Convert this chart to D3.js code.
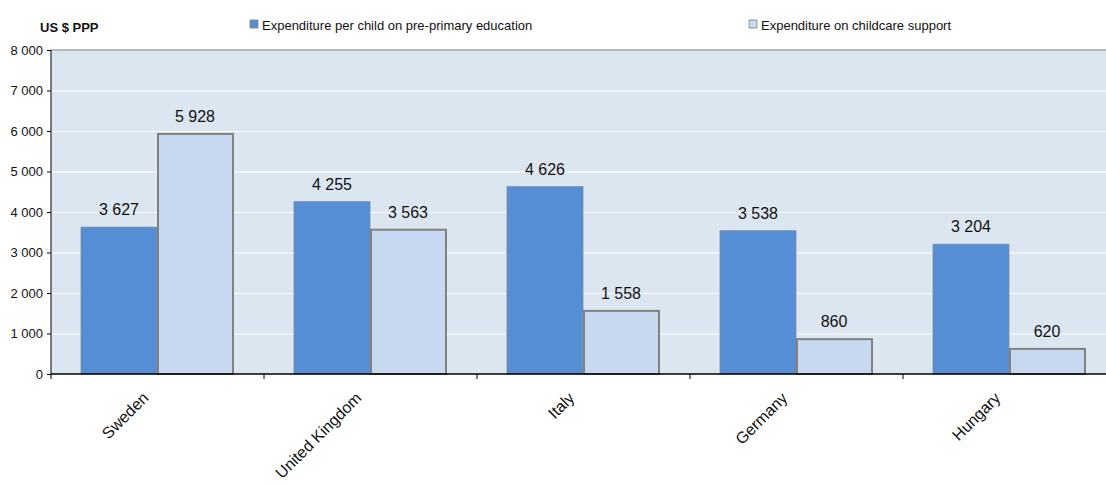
<!DOCTYPE html>
<html lang="en">
<head>
  <meta charset="UTF-8">
  <title>Expenditure per child</title>
  <script src="https://d3js.org/d3.v7.min.js"></script>
  <style>
    body { margin: 0; background: #fff; }
    svg { display: block; font-family: "Liberation Sans", Arial, sans-serif; }
  </style>
</head>
<body>
  <div id="chart"></div>
  <script>
    // data
    const countries = ["Sweden", "United Kingdom", "Italy", "Germany", "Hungary"];
    const prePrimary = [3627, 4255, 4626, 3538, 3204];
    const childcare = [5928, 3563, 1558, 860, 620];
    const seriesNames = ["Expenditure per child on pre-primary education", "Expenditure on childcare support"];
    const yTicks = [0, 1000, 2000, 3000, 4000, 5000, 6000, 7000, 8000];

    const width = 1106, height = 486;
    const plotLeft = 51, plotTop = 50, plotBottom = 374;
    const fmt = v => d3.format(",")(v).replace(/,/g, " ");

    const svg = d3.select("#chart").append("svg")
      .attr("width", width).attr("height", height);

    const x = d3.scaleBand().domain(countries).range([plotLeft, plotLeft + 5 * 213]);
    const y = d3.scaleLinear().domain([0, 8000]).range([plotBottom, plotTop]);

    // plot background
    svg.append("rect")
      .attr("x", plotLeft).attr("y", plotTop)
      .attr("width", x.range()[1] - plotLeft).attr("height", plotBottom - plotTop)
      .attr("fill", "#dce6f1");
    svg.append("line")
      .attr("x1", plotLeft).attr("x2", width).attr("y1", plotTop).attr("y2", plotTop)
      .attr("stroke", "#a6a6a6").attr("stroke-width", 1.5);

    // grid lines
    svg.append("g").selectAll("line")
      .data(yTicks.filter(d => d > 0 && d < 8000))
      .enter().append("line")
      .attr("x1", plotLeft).attr("x2", width)
      .attr("y1", d => y(d) + 0.5).attr("y2", d => y(d) + 0.5)
      .attr("stroke", "#ffffff").attr("stroke-width", 1);

    const bw = 76, pad = 30;
    const groups = svg.append("g").selectAll("g")
      .data(countries)
      .enter().append("g");

    groups.append("rect")
      .attr("x", (d, i) => x(d) + pad)
      .attr("y", (d, i) => y(prePrimary[i]))
      .attr("width", bw)
      .attr("height", (d, i) => plotBottom - y(prePrimary[i]))
      .attr("fill", "#558ed5")
      .attr("stroke", "#808a99").attr("stroke-width", 0.8);

    groups.append("rect")
      .attr("x", (d, i) => x(d) + pad + bw + 1)
      .attr("y", (d, i) => y(childcare[i]))
      .attr("width", bw - 1)
      .attr("height", (d, i) => plotBottom - y(childcare[i]))
      .attr("fill", "#c6d9f1")
      .attr("stroke", "#808080").attr("stroke-width", 2);

    // value labels
    groups.append("text")
      .attr("x", (d, i) => x(d) + pad + bw / 2)
      .attr("y", (d, i) => y(prePrimary[i]) - 12)
      .attr("text-anchor", "middle")
      .attr("font-size", 16).attr("fill", "#111")
      .text((d, i) => fmt(prePrimary[i]));
    groups.append("text")
      .attr("x", (d, i) => x(d) + pad + bw * 1.5)
      .attr("y", (d, i) => y(childcare[i]) - 12)
      .attr("text-anchor", "middle")
      .attr("font-size", 16).attr("fill", "#111")
      .text((d, i) => fmt(childcare[i]));

    // y axis
    const yAxis = svg.append("g")
      .attr("transform", `translate(${plotLeft},0)`)
      .call(d3.axisLeft(y).tickValues(yTicks).tickSize(4).tickPadding(4).tickFormat(fmt));
    yAxis.select(".domain").attr("stroke", "#000").attr("d", `M0,${plotTop}V${plotBottom}`);
    yAxis.selectAll("text").attr("font-size", 13).attr("fill", "#111")
      .attr("font-family", "Liberation Sans, Arial, sans-serif");

    // x axis
    const xAxis = svg.append("g")
      .attr("transform", `translate(0,${plotBottom})`);
    xAxis.append("line")
      .attr("x1", plotLeft).attr("x2", width).attr("stroke", "#000").attr("stroke-width", 1.5);
    xAxis.selectAll(".tk")
      .data(countries.concat(["end"]))
      .enter().append("line")
      .attr("x1", (d, i) => plotLeft + i * x.bandwidth())
      .attr("x2", (d, i) => plotLeft + i * x.bandwidth())
      .attr("y1", 0).attr("y2", 5)
      .attr("stroke", "#000");
    xAxis.selectAll("text")
      .data(countries)
      .enter().append("text")
      .attr("transform", d => `translate(${x(d) + x.bandwidth() / 2 - 8},${25}) rotate(-45)`)
      .attr("text-anchor", "end")
      .attr("font-size", 16).attr("fill", "#111")
      .text(d => d);

    // unit label (clipped like the original)
    svg.append("clipPath").attr("id", "unitclip")
      .append("rect").attr("x", 0).attr("y", 0).attr("width", 101).attr("height", 45);
    svg.append("text")
      .attr("x", 40).attr("y", 32)
      .attr("font-size", 13).attr("font-weight", "bold").attr("fill", "#111")
      .attr("clip-path", "url(#unitclip)")
      .text("US $ PPP");

    // legend
    const legendX = [250, 749];
    const legendColors = ["#558ed5", "#c6d9f1"];
    const legend = svg.append("g").selectAll("g")
      .data(seriesNames)
      .enter().append("g")
      .attr("transform", (d, i) => `translate(${legendX[i]},20)`);
    legend.append("rect")
      .attr("width", 8).attr("height", 8)
      .attr("fill", (d, i) => legendColors[i])
      .attr("stroke", "#808080").attr("stroke-width", 0.8);
    legend.append("text")
      .attr("x", 12).attr("y", 9.5)
      .attr("font-size", 13).attr("fill", "#111")
      .text(d => d);
  </script>
</body>
</html>
